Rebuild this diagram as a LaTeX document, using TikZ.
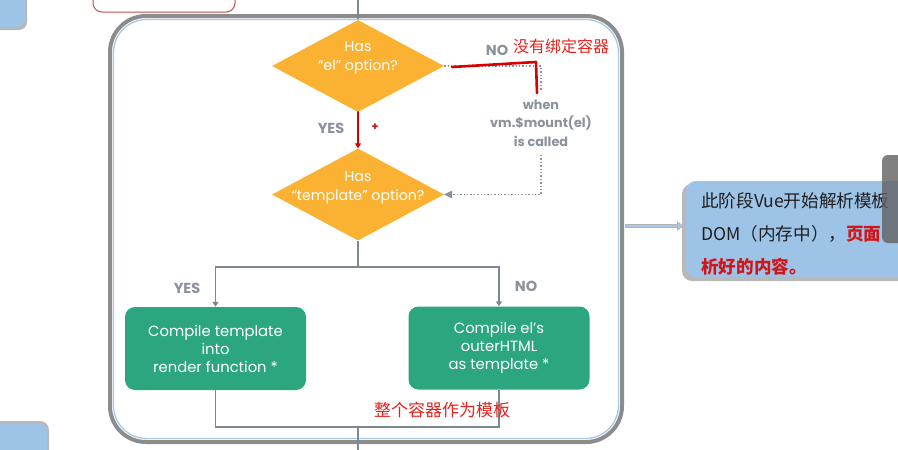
\documentclass[tikz,border=0pt]{standalone}
\usepackage{fontspec}
\setmainfont{Poppins}
\newfontfamily\cjk{Noto Sans CJK SC}
\usetikzlibrary{shapes.geometric,arrows.meta,positioning}
\definecolor{vorange}{HTML}{FBB232}
\definecolor{vgreen}{HTML}{2CA67F}
\definecolor{vgray}{HTML}{8A929C}
\definecolor{vline}{HTML}{7C8894}
\definecolor{cbord}{HTML}{8C8C8C}
\definecolor{cblue}{HTML}{A8C8EA}
\definecolor{pblue}{HTML}{9DC3E6}
\definecolor{pshadow}{HTML}{B8B8B8}
\definecolor{vred}{HTML}{E8231E}
\definecolor{dred}{HTML}{D0161A}
\tikzset{
  dia/.style={shape=diamond, fill=vorange, minimum width=172pt, minimum height=92pt, inner sep=0pt},
  diatext/.style={text=white, align=center, font=\fontsize{14.2}{19}\selectfont, inner sep=0pt},
  gbox/.style={fill=vgreen, rounded corners=10pt, minimum width=181pt, minimum height=83pt, text=white, align=center, font=\fontsize{14.8}{18}\selectfont, inner sep=0pt},
  glabel/.style={text=vgray, font=\bfseries\fontsize{12.8}{18.5}\selectfont, inner sep=0pt, align=center},
  yeslabel/.style={text=vgray, font=\bfseries\fontsize{14.5}{18}\selectfont, inner sep=0pt},
  redlabel/.style={text=vred, font=\cjk\fontsize{16}{18}\selectfont, inner sep=0pt},
  conn/.style={draw=vline, line width=1.2pt},
  tip/.style={-{Triangle[width=6pt,length=5pt]}},
  dotconn/.style={draw=vgray, line width=1.4pt, dotted},
  redline/.style={draw=red!85!black, line width=2.6pt, line cap=round, line join=round},
  notetext/.style={anchor=west, inner sep=0pt, font=\cjk\fontsize{17.6}{20}\selectfont, text=black!88},
}
\begin{document}
\begin{tikzpicture}[x=1pt,y=-1pt]
\useasboundingbox (0,0) rectangle (898,450);
\clip (0,0) rectangle (898,450);
\fill[white] (0,0) rectangle (898,450);

% partial boxes at the edges
\path[fill=pshadow, rounded corners=8pt] (-12,-12) rectangle (27,30);
\path[fill=pblue, rounded corners=8pt] (-12,-12) rectangle (25,27);
\draw[red!70!black!70, line width=1pt, rounded corners=9pt, fill=white] (93,-12) rectangle (235,12);
\path[fill=pshadow, rounded corners=9pt] (-12,421) rectangle (49,470);
\path[fill=pblue, rounded corners=9pt] (-12,423) rectangle (47,470);

% container
\draw[cbord, line width=4pt, rounded corners=36pt] (110,16) rectangle (622,442);
\draw[cblue, line width=1.3pt, rounded corners=33pt] (113.5,19.5) rectangle (618.5,438.5);

% diamonds
\node[dia] (d1) at (358,66) {};
\node[diatext] (t1) at (358,58) {Has\\“el” option?};
\node[dia] (d2) at (358,194.5) {};
\node[diatext] (t2) at (358,187.5) {Has\\“template” option?};

% green boxes
\node[gbox] (b1) at (215.5,348.5) {Compile template\\into\\render function *};
\node[gbox] (b2) at (499,348) {Compile el’s\\outerHTML\\as template *};

% coordinates
\coordinate (top) at (358,-2);
\coordinate (j1) at (358,267);
\coordinate (j2) at (358,427);
\coordinate (bot) at (358,452);
\coordinate (c1) at (541,66);
\coordinate (c2) at (541,90);
\coordinate (c3) at (541,155);
\coordinate (r1) at (452,67);
\coordinate (r2) at (536,62);
\coordinate (r3) at (537,93);

% connectors
\draw[conn, tip] (top) -- (d1.north);
\draw[conn] (d2.south) -- (j1);
\draw[conn, tip] (j1) -| (b1.north);
\draw[conn, tip] (j1) -| (b2.north);
\draw[conn] (b1.south) |- (j2);
\draw[conn] (b2.south) |- (j2);
\draw[conn] (j2) -- (bot);
\draw[redline, -{Triangle[width=6pt,length=5pt]}] (d1.south) -- (d2.north);
\draw[dotconn] (d1.east) -- (c1) -- (c2);
\draw[dotconn] (c3) |- ([xshift=6pt]d2.east);
\fill[vgray] (d2.east) -- ++(8,-4) -- ++(0,8) -- cycle;
\draw[redline] (r1) -- (r2) -- (r3);

% labels
\node[yeslabel] (yes1) at (331,128) {YES};
\node[text=dred, font=\bfseries\fontsize{11}{12}\selectfont, inner sep=0pt] (plus) at (375,127) {+};
\node[yeslabel] (no1) at (497,50) {NO};
\node[redlabel] (rl1) at (561,46) {没有绑定容器};
\node[glabel] (when) at (541,123) {when\\vm.\$mount(el)\\is called};
\node[yeslabel] (yes2) at (187,288) {YES};
\node[yeslabel] (no2) at (526,286) {NO};
\node[redlabel, font=\cjk\fontsize{17}{18}\selectfont] (rl2) at (442,410) {整个容器作为模板};

% right-hand note
\path[fill=pshadow, rounded corners=10pt] (682,184) rectangle (920,281);
\path[fill=pblue, rounded corners=10pt] (686,181) rectangle (920,277);
\coordinate (a0) at (625,226);
\coordinate (a1) at (684,226);
\draw[draw=gray!60, line width=0.8pt, double=cblue, double distance=2.6pt,
      -{Triangle[width=9pt,length=7pt,fill=cblue]}] (a0) -- (a1);
\node[notetext] (n1) at (701,201) {此阶段Vue开始解析模板};
\node[notetext] (n2) at (701,234) {DOM（内存中），\textcolor{dred}{\bfseries 页面}};
\node[notetext, font=\cjk\bfseries\fontsize{17.6}{20}\selectfont, text=dred] (n3) at (701,267) {析好的内容。};

% side tab
\path[fill=black!62, fill opacity=0.8, rounded corners=6pt] (882,155) rectangle (910,243);
\end{tikzpicture}
\end{document}
